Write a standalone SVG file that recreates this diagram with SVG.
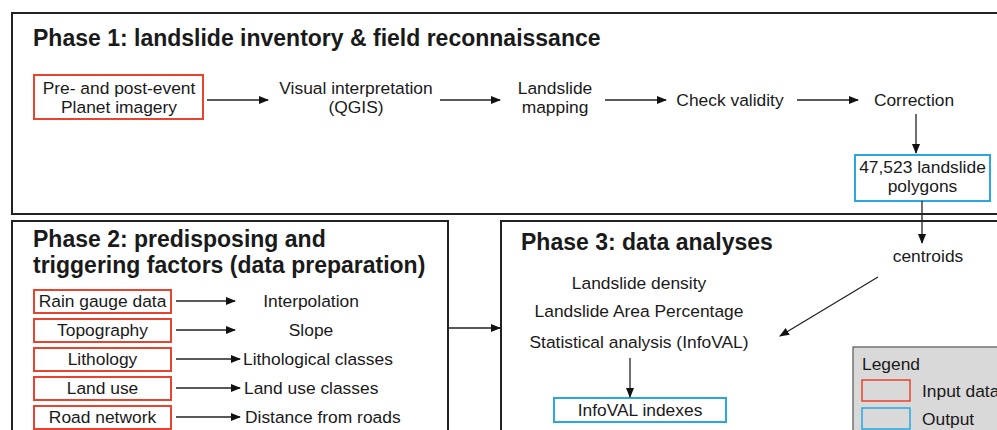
<svg xmlns="http://www.w3.org/2000/svg" width="997" height="430" viewBox="0 0 997 430">
<defs>
<marker id="ah" markerWidth="10" markerHeight="10" refX="9" refY="4" orient="auto" markerUnits="userSpaceOnUse">
<path d="M0,0 L10,4 L0,8 Z" fill="#111"/>
</marker>
<style>
.t{font-family:"Liberation Sans",Arial,sans-serif;font-size:17.4px;fill:#1a1a1a}
.c{text-anchor:middle}
.h{font-family:"Liberation Sans",Arial,sans-serif;font-size:23px;font-weight:bold;fill:#1a1a1a}
.phase{fill:none;stroke:#222;stroke-width:2}
.in{fill:#fff;stroke:#e8432e;stroke-width:2}
.out{fill:#fff;stroke:#29a8e0;stroke-width:2}
.ln{stroke:#222;stroke-width:1.3;fill:none;marker-end:url(#ah)}
</style>
</defs>
<rect width="997" height="430" fill="#fff"/>
<g id="phase1">
<rect class="phase" x="12" y="13" width="1000" height="201"/>
<text class="h" x="33" y="46">Phase 1: landslide inventory &amp; field reconnaissance</text>
</g>
<g id="phase2">
<rect class="phase" x="12" y="221" width="436" height="230"/>
<text class="h" x="33" y="247">Phase 2: predisposing and</text>
<text class="h" x="33" y="273">triggering factors (data preparation)</text>
</g>
<g id="phase3">
<rect class="phase" x="501" y="221" width="520" height="230"/>
<text class="h" x="521" y="250">Phase 3: data analyses</text>
</g>
<g id="imagery">
<rect class="in" x="34" y="75" width="169" height="44"/>
<text class="t c" x="119" y="94">Pre- and post-event</text>
<text class="t c" x="119" y="113">Planet imagery</text>
</g>
<g id="visual">
<text class="t c" x="356" y="94">Visual interpretation</text>
<text class="t c" x="356" y="113">(QGIS)</text>
</g>
<g id="mapping">
<text class="t c" x="555" y="94">Landslide</text>
<text class="t c" x="555" y="113">mapping</text>
</g>
<g id="validity"><text class="t c" x="730" y="106">Check validity</text></g>
<g id="correction"><text class="t c" x="914" y="106">Correction</text></g>
<g id="polygons">
<rect class="out" x="855" y="155" width="135" height="46"/>
<text class="t c" x="922.5" y="173">47,523 landslide</text>
<text class="t c" x="922.5" y="192">polygons</text>
</g>
<g id="centroids"><text class="t c" x="928" y="262">centroids</text></g>
<g id="rain">
<rect class="in" x="34" y="290" width="137" height="23"/>
<text class="t c" x="102.5" y="307">Rain gauge data</text>
</g>
<g id="topo">
<rect class="in" x="34" y="319" width="137" height="23"/>
<text class="t c" x="102.5" y="336">Topography</text>
</g>
<g id="litho">
<rect class="in" x="34" y="348" width="137" height="23"/>
<text class="t c" x="102.5" y="365">Lithology</text>
</g>
<g id="landuse">
<rect class="in" x="34" y="377" width="137" height="23"/>
<text class="t c" x="102.5" y="394">Land use</text>
</g>
<g id="road">
<rect class="in" x="34" y="406" width="137" height="23"/>
<text class="t c" x="102.5" y="423">Road network</text>
</g>
<g id="interp"><text class="t c" x="311" y="307">Interpolation</text></g>
<g id="slope"><text class="t c" x="311" y="336">Slope</text></g>
<g id="lithclass"><text class="t" x="243" y="365">Lithological classes</text></g>
<g id="luclass"><text class="t" x="244" y="394">Land use classes</text></g>
<g id="dist"><text class="t" x="245" y="423">Distance from roads</text></g>
<g id="density"><text class="t c" x="639" y="289">Landslide density</text></g>
<g id="lap"><text class="t c" x="639" y="317">Landslide Area Percentage</text></g>
<g id="stat"><text class="t c" x="639" y="348">Statistical analysis (InfoVAL)</text></g>
<g id="indexes">
<rect class="out" x="554" y="398" width="172" height="24"/>
<text class="t c" x="640" y="416">InfoVAL indexes</text>
</g>
<g id="legend">
<rect x="853" y="347" width="160" height="100" fill="#d9d9d9" stroke="#555" stroke-width="1.2"/>
<text class="t" x="862" y="370">Legend</text>
<rect x="862" y="380" width="48" height="21" fill="#d9d9d9" stroke="#e8432e" stroke-width="1.5"/>
<text class="t" x="922" y="397">Input data</text>
<rect x="862" y="408" width="48" height="21" fill="#d9d9d9" stroke="#29a8e0" stroke-width="1.5"/>
<text class="t" x="922" y="425">Output</text>
</g>
<g id="connectors">
<line class="ln" x1="207" y1="100" x2="268" y2="100"/>
<line class="ln" x1="440" y1="100" x2="500" y2="100"/>
<line class="ln" x1="605" y1="100" x2="666" y2="100"/>
<line class="ln" x1="797" y1="100" x2="858" y2="100"/>
<line class="ln" x1="916" y1="114" x2="916" y2="153"/>
<line class="ln" x1="922" y1="201" x2="922" y2="243"/>
<line class="ln" x1="878" y1="277" x2="780" y2="336"/>
<line class="ln" x1="448" y1="328" x2="500" y2="328"/>
<line class="ln" x1="630" y1="358" x2="630" y2="397"/>
<line class="ln" x1="176" y1="301" x2="235" y2="301"/>
<line class="ln" x1="176" y1="330" x2="235" y2="330"/>
<line class="ln" x1="176" y1="359" x2="240" y2="359"/>
<line class="ln" x1="176" y1="388" x2="240" y2="388"/>
<line class="ln" x1="176" y1="417" x2="240" y2="417"/>
</g>
</svg>
